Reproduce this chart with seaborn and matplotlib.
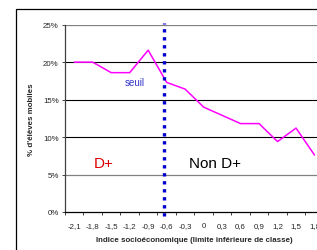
import matplotlib
matplotlib.use("Agg")
import matplotlib.pyplot as plt
import seaborn as sns
import pandas as pd
import numpy as np
from matplotlib.patches import Rectangle

categories = ["-2,1", "-1,8", "-1,5", "-1,2", "-0,9", "-0,6", "-0,3", "0",
              "0,3", "0,6", "0,9", "1,2", "1,5", "1,8"]
values = [20.0, 20.0, 18.6, 18.6, 21.6, 17.3, 16.4, 14.0, 12.9, 11.8, 11.8, 9.4, 11.2, 7.6]
y_ticks = [0, 5, 10, 15, 20, 25]
y_tick_labels = ["0%", "5%", "10%", "15%", "20%", "25%"]
threshold_category = "-0,6"

sns.set_style("white")
plt.rcParams["font.family"] = ["Liberation Sans", "DejaVu Sans"]

df = pd.DataFrame({"idx": np.arange(len(categories)), "val": values})

fig = plt.figure(figsize=(3.17, 2.51), dpi=100)
ax = fig.add_axes([65 / 317, 1 - 213 / 251, (323.75 - 65) / 317, (213 - 25.7) / 251])

# outer chart border (extends beyond image on right/bottom)
fig.patches.append(Rectangle((16 / 317, -0.2), 2.0, 1 - 10 / 251 + 0.2,
                             transform=fig.transFigure, fill=False,
                             edgecolor="black", linewidth=0.9, zorder=0))

# gridlines
for t in y_ticks[1:]:
    col = "#808080" if t in (5, 25) else "black"
    ax.axhline(t, color=col, linewidth=0.9 if t in (5, 25) else 0.8, zorder=1)

sns.lineplot(data=df, x="idx", y="val", ax=ax, color="#FF00FF", linewidth=1.1, zorder=3)

thr = categories.index(threshold_category) - 0.12
ax.axvline(thr, ymin=-0.022, ymax=1.01, color="#0000CC", linestyle=(0, (1, 1.4)),
           linewidth=2.4, clip_on=False, zorder=4)

ax.set_xlim(-0.5, len(categories) - 0.5)
ax.set_ylim(0, 25)

ax.set_xticks(np.arange(len(categories)))
ax.set_xticklabels(categories, fontsize=5.7)
ax.set_xticks(np.arange(len(categories) + 1) - 0.5, minor=True)
ax.tick_params(axis="x", which="major", length=0, pad=7)
ax.tick_params(axis="x", which="minor", length=2.5, width=0.6, direction="out", bottom=True)

ax.set_yticks(y_ticks)
ax.set_yticklabels(y_tick_labels, fontsize=5.7)
ax.tick_params(axis="y", which="major", length=2.5, width=0.6, direction="out", left=True, pad=2)

for s in ["top", "right"]:
    ax.spines[s].set_visible(False)
ax.spines["left"].set_color("#404040")
ax.spines["left"].set_linewidth(0.9)
ax.spines["bottom"].set_color("black")
ax.spines["bottom"].set_linewidth(0.9)

ax.set_xlabel("Indice socioéconomique (limite inférieure de classe)", fontsize=5.7,
              fontweight="bold", labelpad=5)
ax.set_ylabel("% d'élèves mobiles", fontsize=5.7, fontweight="bold", labelpad=6)

ax.text(3.25, 17.3, "seuil", color="#3333CC", fontsize=7, ha="center", va="center")
ax.text(1.6, 6.6, "D+", color="#DD0000", fontsize=11, ha="center", va="center")
ax.text(7.6, 6.6, "Non D+", color="black", fontsize=11, ha="center", va="center")

fig.savefig("out.png", dpi=100)
